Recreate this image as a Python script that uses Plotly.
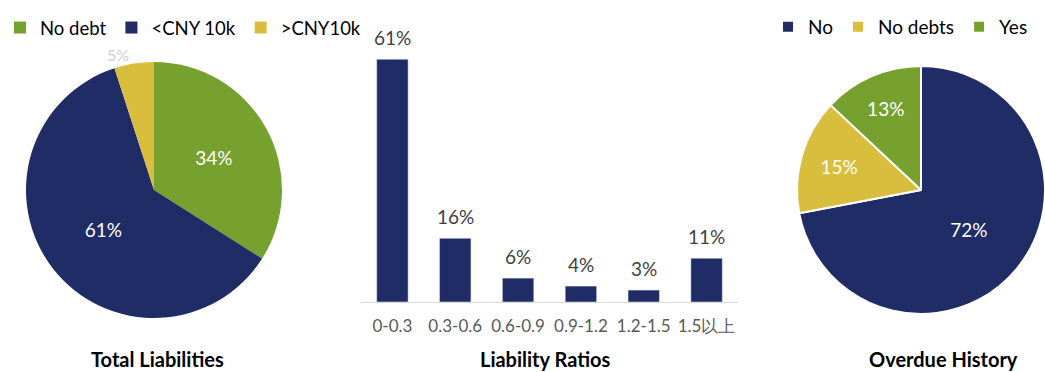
import plotly.graph_objects as go

# ---- data ----
liab_labels = ["No debt", "<CNY 10k", ">CNY10k"]
liab_values = [34, 61, 5]

ratio_cats = ["0-0.3", "0.3-0.6", "0.6-0.9", "0.9-1.2", "1.2-1.5", "1.5以上"]
ratio_values = [61, 16, 6, 4, 3, 11]

overdue_labels = ["No", "No debts", "Yes"]
overdue_values = [72, 15, 13]

titles = ["Total Liabilities", "Liability Ratios", "Overdue History"]

# ---- styles ----
NAVY = "#1F2C66"
GREEN = "#76A12F"
YELLOW = "#D8BE3C"
FONT = "Lato, 'Open Sans', sans-serif"

W, H = 1045, 372

def px_x(x):
    return x / W

def px_y(y):
    return 1 - y / H

fig = go.Figure()

fig.add_trace(go.Pie(
    labels=liab_labels, values=liab_values, sort=False, direction="clockwise",
    rotation=0,
    marker=dict(colors=[GREEN, NAVY, YELLOW], line=dict(width=0)),
    texttemplate="%{value}%",
    textposition=["inside", "inside", "outside"],
    insidetextorientation="horizontal",
    insidetextfont=dict(color="white", size=19, family=FONT),
    outsidetextfont=dict(color="#cfcfcf", size=16, family=FONT),
    domain=dict(x=[px_x(24), px_x(284)], y=[px_y(318), px_y(62)]),
    legend="legend", hoverinfo="label+percent",
    automargin=False,
))

fig.add_trace(go.Pie(
    labels=overdue_labels, values=overdue_values, sort=False, direction="clockwise",
    rotation=0,
    marker=dict(colors=[NAVY, YELLOW, GREEN], line=dict(width=2, color="white")),
    texttemplate="%{value}%",
    textposition="inside",
    insidetextorientation="horizontal",
    insidetextfont=dict(color="white", size=19, family=FONT),
    domain=dict(x=[px_x(797), 1.0], y=[px_y(315), px_y(65)]),
    legend="legend2", hoverinfo="label+percent",
    automargin=False,
))

fig.add_trace(go.Bar(
    x=ratio_cats, y=ratio_values, marker=dict(color=NAVY), showlegend=False,
    hoverinfo="x+y",
))

for c, v in zip(ratio_cats, ratio_values):
    fig.add_annotation(x=c, y=v, xref="x", yref="y", text=f"{v}%",
                       showarrow=False, yanchor="bottom", yshift=8,
                       font=dict(size=19, color="#404040", family=FONT))

for t, cx in zip(titles, [157, 545, 943]):
    fig.add_annotation(x=px_x(cx), y=px_y(359), xref="paper", yref="paper",
                       text=f"<b>{t}</b>", showarrow=False,
                       xanchor="center", yanchor="middle",
                       font=dict(size=20, color="black", family=FONT))

fig.update_layout(
    width=W, height=H,
    margin=dict(l=0, r=0, t=0, b=0),
    paper_bgcolor="white", plot_bgcolor="white",
    bargap=0.5,
    font=dict(family=FONT),
    xaxis=dict(domain=[px_x(361), px_x(738)], showline=True, linecolor="#d9d9d9",
               linewidth=1, showgrid=False, ticks="", ticklabelstandoff=9,
               tickfont=dict(size=17, color="#595959", family=FONT),
               fixedrange=True, automargin=False),
    yaxis=dict(domain=[px_y(302), px_y(23.4)], range=[0, 70], visible=False,
               fixedrange=True),
    legend=dict(orientation="h", x=0, xanchor="left", y=px_y(28), yanchor="middle",
                font=dict(size=18.5, color="black", family=FONT),
                bgcolor="rgba(0,0,0,0)", traceorder="normal"),
    legend2=dict(orientation="h", x=1 - 12 / W, xanchor="right", y=px_y(27), yanchor="middle",
                 font=dict(size=19, color="black", family=FONT),
                 bgcolor="rgba(0,0,0,0)", traceorder="normal"),
)

fig.write_html("out.html")
